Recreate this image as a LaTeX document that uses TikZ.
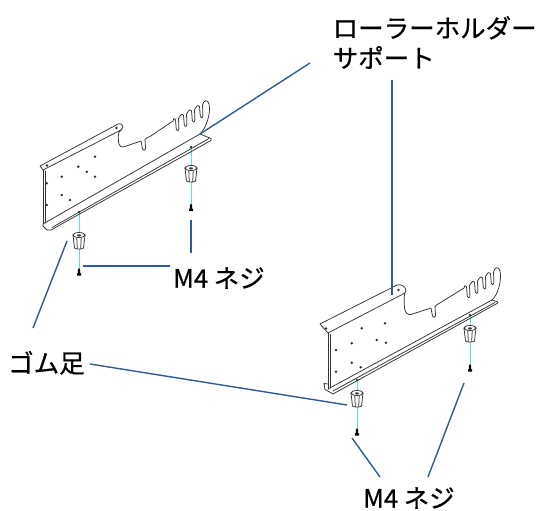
\documentclass[tikz,border=0pt]{standalone}
\usepackage{fontspec}
\newfontfamily\jpfont{Noto Sans CJK JP}[FakeBold=0.6]
\definecolor{leader}{HTML}{2E5B9A}
\definecolor{axisline}{HTML}{5ADCE6}
\definecolor{metal}{HTML}{333333}
\begin{document}
\begin{tikzpicture}[x=1pt,y=-1pt,
  part/.style={draw=metal, line width=0.75pt, line join=round, line cap=round},
  leaderline/.style={draw=leader, line width=1.4pt},
  axis/.style={draw=axisline, line width=1pt},
  lbl/.style={font=\jpfont\fontsize{25.5}{30}\selectfont, inner sep=0pt, anchor=base west, text=black},
  hole/.style={fill=metal},
  rubberfoot/.pic={
    \draw[part, fill=white] (-6,0) -- (-4.5,13) .. controls (-3,14.5) and (3,14.5) .. (4.5,13) -- (6,0);
    \draw[part, fill=white] (0,0) ellipse [x radius=6, y radius=2.5];
    \fill[metal] (0,0.4) ellipse [x radius=2, y radius=1.1];
    \draw[part] (-2.2,3) -- (-1.7,13.8) (2.2,3) -- (1.7,13.8);
  },
  screwpin/.pic={
    \fill[black] (0,0) -- (1.2,2) -- (1.2,5) -- (2,5.5) -- (2,7.5) -- (-2,7.5) -- (-2,5.5) -- (-1.2,5) -- (-1.2,2) -- cycle;
  }]
\useasboundingbox (0,0) rectangle (547,511);

% ---------- assembly axes (cyan) ----------
\draw[axis] (79,212) -- (79,270);
\draw[axis] (191,147) -- (191,206);
\draw[axis] (357,380) -- (357,430);
\draw[axis] (470,315) -- (470,366);

% ---------- left bracket ----------
% plate left edge with sheet thickness
\draw[part] (43,170) -- (43,224);
\draw[part] (45.5,171) -- (45.5,223);
% top flange
\draw[part] (43,170) -- (40,166) -- (118,124) .. controls (121,123) and (123,125) .. (123,127) -- (121,130) -- cycle;
% notch, cut-out and roller slots
\draw[part] (121,130) .. controls (118,132) and (118,135) .. (118.5,142)
  .. controls (119,147) and (122,147.5) .. (125,146.5) -- (141,141)
  -- (142.5,149) .. controls (143,151) and (145.5,151) .. (145.5,148) -- (145,139.5)
  .. controls (146,138) and (148,137) .. (150,136.5) -- (173,121)
  foreach \k in {0,1,2,3}{
    .. controls ({173+8*\k},{118.5-4.4*\k}) and ({174.5+8*\k},{117.5-4.4*\k}) .. ({175.5+8*\k},{119.5-4.4*\k})
    -- ({176.3+8*\k},{129.5-4.4*\k})
    .. controls ({176.6+8*\k},{131.5-4.4*\k}) and ({178.8+8*\k},{131.5-4.4*\k}) .. ({178.9+8*\k},{128.5-4.4*\k})
    -- ({178.5+8*\k},{118.5-4.4*\k})
  }
  .. controls (203,100) and (208,99) .. (209,104) .. controls (211,112) and (207,127) .. (200,134);
% bottom flange
\draw[part] (43,224) -- (200,134) -- (211,138.5) -- (211,140.5) -- (51,230) -- (47,230) -- (43,226) -- cycle;
\draw[part] (52,227.5) -- (209,138.5);
% holes
\foreach \p in {(47,165.5),(116.5,128),
               (61.7,176.7),(78.3,166.7),(95,156.7),(86.7,171.7),(95,176.7),
               (46.7,183.3),(61.7,195),(70,200),(46.7,205),
               (79,212),(191,147)}
  \fill[hole] \p circle[radius=1.4];

% ---------- right bracket ----------
\draw[part] (328,333) -- (328,389);
\draw[part] (330.5,334.5) -- (330.5,388);
% top flange
\draw[part] (328,333) -- (320,324) -- (397,285) .. controls (401,284) and (405,286) .. (406,290) -- (405,293) -- cycle;
% notch, cut-out and roller slots
\draw[part] (405,293) .. controls (404,296) and (404,300) .. (404.5,308)
  .. controls (405,313) and (408,315) .. (411,314.5) -- (431,308)
  -- (432.5,316) .. controls (433,318) and (435.5,318) .. (435.5,315) -- (435,306.5)
  .. controls (436,305) and (437,304.5) .. (439,303.5) -- (464,288)
  foreach \k in {0,1,2,3}{
    .. controls ({464+8*\k},{285.5-4.4*\k}) and ({465.5+8*\k},{284.5-4.4*\k}) .. ({466.5+8*\k},{286.5-4.4*\k})
    -- ({467.3+8*\k},{296.5-4.4*\k})
    .. controls ({467.6+8*\k},{298.5-4.4*\k}) and ({469.8+8*\k},{298.5-4.4*\k}) .. ({469.9+8*\k},{295.5-4.4*\k})
    -- ({469.5+8*\k},{285.5-4.4*\k})
  }
  .. controls (494,267) and (499,266) .. (500,271) .. controls (502,280) and (498,295) .. (492,300);
% bottom flange
\draw[part] (328,389) -- (492,300) -- (498,302) -- (497,303.5) -- (333,394) -- (325,389.5) -- (324,383.5) -- (328,384);
\draw[part] (333,391) -- (495,302.5);
% holes
\foreach \p in {(326,328.5),(398.5,290),
               (361.7,328.3),(385,323.3),(351.7,343.3),(376.7,340),(386,342.7),
               (336,350),(351.7,362.7),(360.7,367.3),(336,371.7),
               (357,380),(470,315)}
  \fill[hole] \p circle[radius=1.4];

% ---------- rubber feet and screws ----------
\pic at (79,235) {rubberfoot};
\pic at (191,168) {rubberfoot};
\pic at (357,393) {rubberfoot};
\pic at (470,328) {rubberfoot};
\pic at (79,268) {screwpin};
\pic at (191,203.5) {screwpin};
\pic at (357,428) {screwpin};
\pic at (470,364) {screwpin};

% ---------- labels ----------
\node[lbl] (rl1) at (332.5,37.7) {ローラーホルダー};
\node[lbl] (rl2) at (332.5,67.7) {サポート};
\node[lbl] (gomu) at (8,372.7) {ゴム足};
\node[lbl] (m4a) at (173,287.7) {M4 ネジ};
\node[lbl] (m4b) at (363,507.7) {M4 ネジ};

% ---------- leader lines ----------
\coordinate (rl-a) at (310,63);      \coordinate (lb-tip) at (200,134);
\coordinate (rl-b) at (392,80);      \coordinate (rb-top) at (392,295);
\coordinate (gm-a) at (33,328);      \coordinate (lb-foot) at (67,241);
\coordinate (gm-b) at (90,364);      \coordinate (rb-foot) at (347,405);
\coordinate (m4a-v) at (191,253);    \coordinate (lb-screw-r) at (191,220);
\coordinate (m4a-h) at (170,266);    \coordinate (lb-screw-l) at (83,266);
\coordinate (m4b-l) at (380,477);    \coordinate (rb-screw-l) at (352,438);
\coordinate (m4b-r) at (428,477);    \coordinate (rb-screw-r) at (464,383);
\draw[leaderline] (rl-a) -- (lb-tip);
\draw[leaderline] (rl-b) -- (rb-top);
\draw[leaderline] (gm-a) -- (lb-foot);
\draw[leaderline] (gm-b) -- (rb-foot);
\draw[leaderline] (m4a-v) -- (lb-screw-r);
\draw[leaderline] (m4a-h) -- (lb-screw-l);
\draw[leaderline] (m4b-l) -- (rb-screw-l);
\draw[leaderline] (m4b-r) -- (rb-screw-r);
\end{tikzpicture}
\end{document}
